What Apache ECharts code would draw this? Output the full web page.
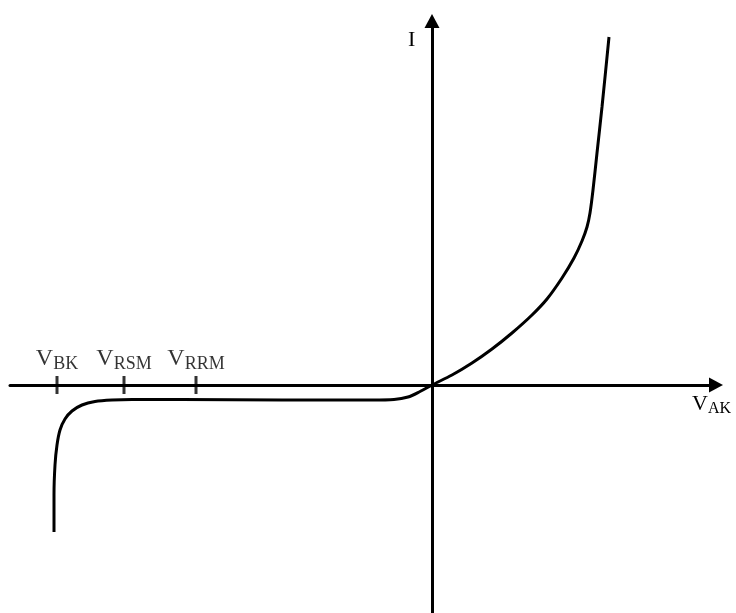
<!DOCTYPE html>
<html>
<head>
<meta charset="utf-8">
<script src="https://cdn.jsdelivr.net/npm/echarts@6/dist/echarts.min.js"></script>
<style>
  html, body { margin: 0; padding: 0; background: #fff; }
  #chart { width: 736px; height: 613px; }
</style>
</head>
<body>
<div id="chart"></div>
<script>
// diode I-V curve, units roughly = px from origin
var reverseCurve = [
  [-378, -147], [-378, -110], [-377, -80], [-375, -60], [-372, -45], [-367, -34],
  [-360, -26], [-350, -20], [-337, -16.5], [-320, -15], [-300, -14.5], [-250, -14.5],
  [-150, -15], [-60, -15], [-38, -14.5], [-24, -12], [-12, -6.5], [0, 0]
];
var forwardCurve = [
  [20, 10], [40, 22], [60, 36], [80, 52], [100, 70], [115, 86], [130, 107],
  [142, 127], [150, 144], [155, 158], [158, 172], [161, 195], [165, 232],
  [170, 278], [177, 348]
];
var tickNames = ['BK', 'RSM', 'RRM'];
var tickValues = [-375, -308, -236];

var serif = 'Liberation Serif';
var chart = echarts.init(document.getElementById('chart'));

var tickData = tickValues.map(function (v, i) {
  return { value: [v, 0], name: tickNames[i] };
});

chart.setOption({
  animation: false,
  grid: { left: 10, right: 20, top: 21, bottom: 0 },
  xAxis: {
    type: 'value', min: -422, max: 284,
    axisLine: { onZero: true, symbol: ['none', 'triangle'], symbolSize: [15, 14],
      lineStyle: { color: '#000', width: 3 } },
    axisTick: { show: false }, axisLabel: { show: false }, splitLine: { show: false }
  },
  yAxis: {
    type: 'value', min: -228, max: 364,
    axisLine: { onZero: true, symbol: ['none', 'triangle'], symbolSize: [15, 14],
      lineStyle: { color: '#000', width: 3 } },
    axisTick: { show: false }, axisLabel: { show: false }, splitLine: { show: false }
  },
  series: [
    {
      type: 'line',
      data: reverseCurve.concat(forwardCurve),
      smooth: 0.3,
      showSymbol: false,
      lineStyle: { color: '#000', width: 3 }
    },
    {
      type: 'scatter',
      data: tickData,
      symbol: 'rect',
      symbolSize: [3, 18],
      itemStyle: { color: '#000' },
      label: {
        show: true,
        position: 'top',
        distance: 5,
        formatter: function (p) { return '{v|V}{s|' + p.name + '}'; },
        rich: {
          v: { fontFamily: serif, fontSize: 24, color: '#000', verticalAlign: 'bottom' },
          s: { fontFamily: serif, fontSize: 18, color: '#000', verticalAlign: 'bottom', padding: [0, 0, -2, 0] }
        }
      }
    }
  ],
  graphic: [
    { type: 'text', left: 408, top: 29,
      style: { text: 'I', font: '22px "Liberation Serif"', fill: '#000' } },
    { type: 'text', left: 692, top: 393,
      style: { text: '{v|V}{s|AK}', fill: '#000',
        rich: {
          v: { fontFamily: serif, fontSize: 22, verticalAlign: 'bottom' },
          s: { fontFamily: serif, fontSize: 16, verticalAlign: 'bottom', padding: [0, 0, -2, 0] }
        } } }
  ]
});
</script>
</body>
</html>
